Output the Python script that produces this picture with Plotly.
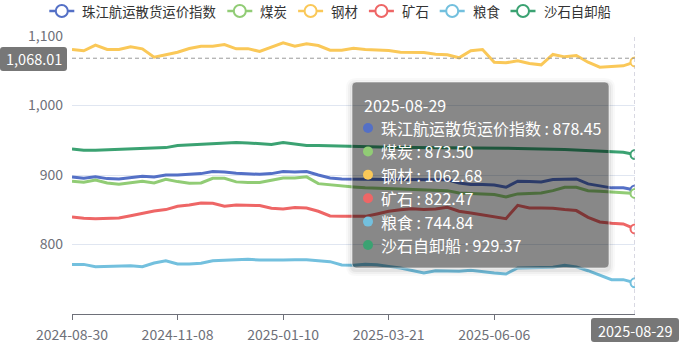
import plotly.graph_objects as go

# ---------------- data ----------------
dates = [
    "2024-08-30", "2024-09-06", "2024-09-13", "2024-09-20", "2024-09-27",
    "2024-10-11", "2024-10-18", "2024-10-25", "2024-11-01", "2024-11-08",
    "2024-11-15", "2024-11-22", "2024-11-29", "2024-12-06", "2024-12-13",
    "2024-12-20", "2024-12-27", "2025-01-03", "2025-01-10", "2025-01-17",
    "2025-01-24", "2025-02-07", "2025-02-14", "2025-02-21", "2025-02-28",
    "2025-03-07", "2025-03-14", "2025-03-21", "2025-03-28", "2025-04-11",
    "2025-04-18", "2025-04-25", "2025-05-09", "2025-05-16", "2025-05-23",
    "2025-05-30", "2025-06-06", "2025-06-13", "2025-06-20", "2025-06-27",
    "2025-07-04", "2025-07-11", "2025-07-18", "2025-07-25", "2025-08-01",
    "2025-08-08", "2025-08-15", "2025-08-22", "2025-08-29",
]

tick_dates = ["2024-08-30", "2024-11-08", "2025-01-10", "2025-03-21", "2025-06-06"]
y_ticks = [800, 900, 1000, 1100]

index_vals = [
    897.3, 895.3, 897.3, 894.8, 894.4, 896.7, 898.1, 897.3, 900.1, 900.1,
    900.7, 902.0, 904.9, 904.4, 902.5, 902.0, 901.0, 902.0, 904.9, 904.4,
    904.9, 900.1, 895.8, 894.4, 893.9, 893.5, 893.4, 893.4, 893.4, 893.4,
    893.4, 893.0, 893.2, 888.6, 886.5, 886.2, 885.5, 882.3, 891.0, 890.5,
    890.1, 893.4, 894.4, 894.4, 887.2, 883.8, 881.5, 881.5, 878.45,
]
coal_vals = [
    891.1, 889.6, 892.9, 888.6, 886.6, 888.6, 891.1, 888.6, 893.8, 890.5,
    888.0, 888.6, 895.3, 895.3, 890.1, 889.1, 889.1, 892.4, 895.8, 895.8,
    897.3, 887.6, 885.7, 884.2, 882.8, 881.5, 881.0, 880.0, 879.5, 879.0,
    878.5, 877.5, 877.5, 874.2, 873.0, 872.5, 871.8, 868.5, 872.8, 873.5,
    874.2, 877.5, 882.3, 882.3, 877.5, 876.6, 875.6, 875.0, 873.50,
]
steel_vals = [
    1080.6, 1078.7, 1086.8, 1080.6, 1080.6, 1084.4, 1081.5, 1069.5, 1072.9, 1076.7,
    1082.0, 1085.3, 1085.3, 1087.8, 1081.5, 1081.8, 1077.7, 1083.9, 1090.2, 1085.3,
    1088.8, 1086.3, 1079.6, 1079.6, 1082.5, 1080.6, 1079.6, 1079.1, 1076.7, 1076.2,
    1076.2, 1073.8, 1072.9, 1068.6, 1078.7, 1080.6, 1062.3, 1061.4, 1064.3, 1060.4,
    1058.5, 1073.4, 1070.0, 1071.9, 1062.3, 1055.1, 1056.5, 1057.1, 1062.68,
]
ore_vals = [
    839.7, 837.8, 837.2, 838.2, 838.2, 841.5, 845.4, 848.2, 850.2, 854.9,
    856.9, 859.8, 859.3, 855.0, 856.9, 856.4, 856.0, 852.1, 851.2, 853.1,
    852.6, 847.8, 841.1, 840.6, 841.0, 840.5, 844.0, 847.8, 850.0, 851.6,
    850.2, 851.0, 853.5, 847.8, 845.4, 843.0, 840.5, 837.2, 856.4, 852.6,
    852.6, 852.1, 850.2, 848.8, 839.1, 832.5, 830.5, 829.6, 822.47,
]
grain_vals = [
    771.4, 771.4, 768.0, 768.5, 768.5, 769.5, 768.0, 773.4, 776.7, 771.9,
    771.9, 772.9, 776.7, 777.7, 778.2, 778.6, 777.7, 777.2, 777.7, 778.2,
    778.2, 776.7, 775.3, 770.5, 770.0, 771.5, 771.0, 768.5, 766.2, 762.5,
    759.0, 762.3, 761.5, 761.5, 762.8, 760.4, 759.0, 757.6, 766.2, 766.5,
    767.0, 767.3, 770.0, 767.8, 762.3, 755.6, 749.4, 749.4, 744.84,
]
sand_vals = [
    937.6, 935.6, 935.6, 936.3, 936.6, 937.3, 938.0, 938.8, 939.4, 942.3,
    943.2, 943.8, 945.5, 946.2, 946.7, 946.2, 945.2, 943.8, 946.7, 944.8,
    942.3, 942.3, 941.9, 940.9, 940.5, 940.0, 940.0, 940.0, 939.5, 939.5,
    939.5, 939.5, 939.2, 939.0, 939.0, 938.5, 939.0, 938.5, 938.0, 938.0,
    937.5, 937.0, 936.6, 936.0, 935.0, 934.2, 933.5, 932.7, 929.37,
]

series_names = ["珠江航运散货运价指数", "煤炭", "钢材", "矿石", "粮食", "沙石自卸船"]
series_values = [index_vals, coal_vals, steel_vals, ore_vals, grain_vals, sand_vals]
colors = ["#5470c6", "#91cc75", "#fac858", "#ee6666", "#73c0de", "#3ba272"]

pointer_y = 1068.01          # crosshair (mouse) position on y axis
hover_date = dates[-1]

# ---------------- layout geometry ----------------
W, H = 680, 344
ML, MR, MT, MB = 72, 45, 36, 30
PW, PH = W - ML - MR, H - MT - MB
FONT = "Noto Sans CJK SC, Noto Sans, sans-serif"


def px(x):
    return (x - ML) / PW


def py(y):
    return (H - MB - y) / PH


def rrect(x0, y0, x1, y1, r):
    return (
        f"M {px(x0 + r)},{py(y0)} L {px(x1 - r)},{py(y0)} "
        f"Q {px(x1)},{py(y0)} {px(x1)},{py(y0 + r)} "
        f"L {px(x1)},{py(y1 - r)} Q {px(x1)},{py(y1)} {px(x1 - r)},{py(y1)} "
        f"L {px(x0 + r)},{py(y1)} Q {px(x0)},{py(y1)} {px(x0)},{py(y1 - r)} "
        f"L {px(x0)},{py(y0 + r)} Q {px(x0)},{py(y0)} {px(x0 + r)},{py(y0)} Z"
    )


fig = go.Figure()

for name, vals, c in zip(series_names, series_values, colors):
    fig.add_trace(go.Scatter(
        x=dates, y=vals, mode="lines", name=name, showlegend=False,
        line=dict(color=c, width=3), hoverinfo="skip",
    ))

for name, vals, c in zip(series_names, series_values, colors):
    fig.add_trace(go.Scatter(
        x=[dates[-1]], y=[vals[-1]], mode="markers", showlegend=False,
        marker=dict(symbol="circle", size=9, color="white",
                    line=dict(color=c, width=2)),
        hoverinfo="skip",
    ))

shapes = []
annotations = []

# ---------- legend (drawn manually, ECharts style) ----------
LEG_Y = 11
LEG_FS = 13.4
ICON_W, ICON_GAP, ITEM_GAP = 25, 6, 13
lx = 49.3
for name, c in zip(series_names, colors):
    shapes.append(dict(type="line", xref="paper", yref="paper", layer="above",
                       x0=px(lx), x1=px(lx + ICON_W), y0=py(LEG_Y), y1=py(LEG_Y),
                       line=dict(color=c, width=2.5)))
    cx = lx + ICON_W / 2
    shapes.append(dict(type="circle", xref="paper", yref="paper", layer="above",
                       x0=px(cx - 6), x1=px(cx + 6), y0=py(LEG_Y - 6), y1=py(LEG_Y + 6),
                       fillcolor="white", line=dict(color=c, width=2)))
    tx = lx + ICON_W + ICON_GAP
    annotations.append(dict(xref="paper", yref="paper", x=px(tx), y=py(LEG_Y),
                            text=name, showarrow=False, xanchor="left",
                            yanchor="middle",
                            font=dict(family=FONT, size=LEG_FS, color="#333333")))
    lx = tx + len(name) * LEG_FS + ITEM_GAP

# crosshair lines
shapes.append(dict(type="line", xref="paper", yref="y", x0=0, x1=1,
                   y0=pointer_y, y1=pointer_y, layer="above",
                   line=dict(color="#9a9a9a", width=1, dash="4px,3px")))
shapes.append(dict(type="line", xref="x", yref="paper", x0=len(dates) - 1,
                   x1=len(dates) - 1, y0=0, y1=1, layer="above",
                   line=dict(color="#b0b0c4", width=1, dash="4px,3px")))

# tooltip shadow + box
bx0, by0, bx1, by1 = 352, 82, 609, 268
for k, a in [(6, 0.025), (4, 0.035), (2, 0.05)]:
    shapes.append(dict(type="path", xref="paper", yref="paper", layer="above",
                       path=rrect(bx0 - k, by0 - k + 2, bx1 + k, by1 + k + 2, 4 + k),
                       fillcolor=f"rgba(0,0,0,{a})", line=dict(width=0)))
shapes.append(dict(type="path", xref="paper", yref="paper", layer="above",
                   path=rrect(bx0, by0, bx1, by1, 4),
                   fillcolor="rgba(0,0,0,0.4)",
                   line=dict(color="rgba(255,255,255,0.55)", width=1)))

annotations.append(dict(xref="paper", yref="paper", x=px(362), y=py(105),
                        text=hover_date, showarrow=False, xanchor="left",
                        yanchor="middle", font=dict(family=FONT, size=16, color="white")))
row_y0, row_dy = 128, 23.4
for k, (name, vals, c) in enumerate(zip(series_names, series_values, colors)):
    yy = row_y0 + k * row_dy
    shapes.append(dict(type="circle", xref="paper", yref="paper", layer="above",
                       x0=px(363), x1=px(373), y0=py(yy - 5), y1=py(yy + 5),
                       fillcolor=c, line=dict(width=0)))
    annotations.append(dict(xref="paper", yref="paper", x=px(379), y=py(yy),
                            text=f"{name} : {vals[-1]:.2f}", showarrow=False,
                            xanchor="left", yanchor="middle",
                            font=dict(family=FONT, size=16, color="white")))

# axis pointer labels
shapes.append(dict(type="path", xref="paper", yref="paper", layer="above",
                   path=rrect(0, 47, 67, 71, 3), fillcolor="#777777",
                   line=dict(width=0)))
annotations.append(dict(xref="paper", yref="y", x=px(33.5), y=pointer_y,
                        text=f"{pointer_y:,.2f}", showarrow=False,
                        xanchor="center", yanchor="middle",
                        font=dict(family=FONT, size=14.5, color="white")))
shapes.append(dict(type="path", xref="paper", yref="paper", layer="above",
                   path=rrect(591, 318, 679, 342, 3), fillcolor="#777777",
                   line=dict(width=0)))
annotations.append(dict(xref="paper", yref="paper", x=px(635), y=py(330),
                        text=hover_date, showarrow=False,
                        xanchor="center", yanchor="middle",
                        font=dict(family=FONT, size=14.5, color="white")))

fig.update_layout(
    width=W, height=H,
    margin=dict(l=ML, r=MR, t=MT, b=MB, autoexpand=False),
    paper_bgcolor="white", plot_bgcolor="white",
    font=dict(family=FONT, size=14, color="#6E7079"),
    showlegend=False,
    shapes=shapes, annotations=annotations,
    hovermode=False,
)

fig.update_xaxes(
    type="category", categoryorder="array", categoryarray=dates,
    range=[0, len(dates) - 1],
    tickmode="array", tickvals=tick_dates, ticktext=tick_dates,
    showgrid=False, showline=True, linecolor="#6E7079", linewidth=1,
    ticks="outside", ticklen=5, tickcolor="#6E7079", ticklabelstandoff=3,
    tickfont=dict(family=FONT, size=14, color="#6E7079"),
    zeroline=False, fixedrange=True, automargin=False,
)
fig.update_yaxes(
    range=[700, 1100], tickmode="array", tickvals=y_ticks,
    tickformat=",", showgrid=True, gridcolor="#E0E6F1", gridwidth=1,
    showline=False, zeroline=False, ticks="", ticklabelstandoff=8,
    tickfont=dict(family=FONT, size=14, color="#6E7079"), fixedrange=True,
    automargin=False,
)

fig.write_html("out.html")
